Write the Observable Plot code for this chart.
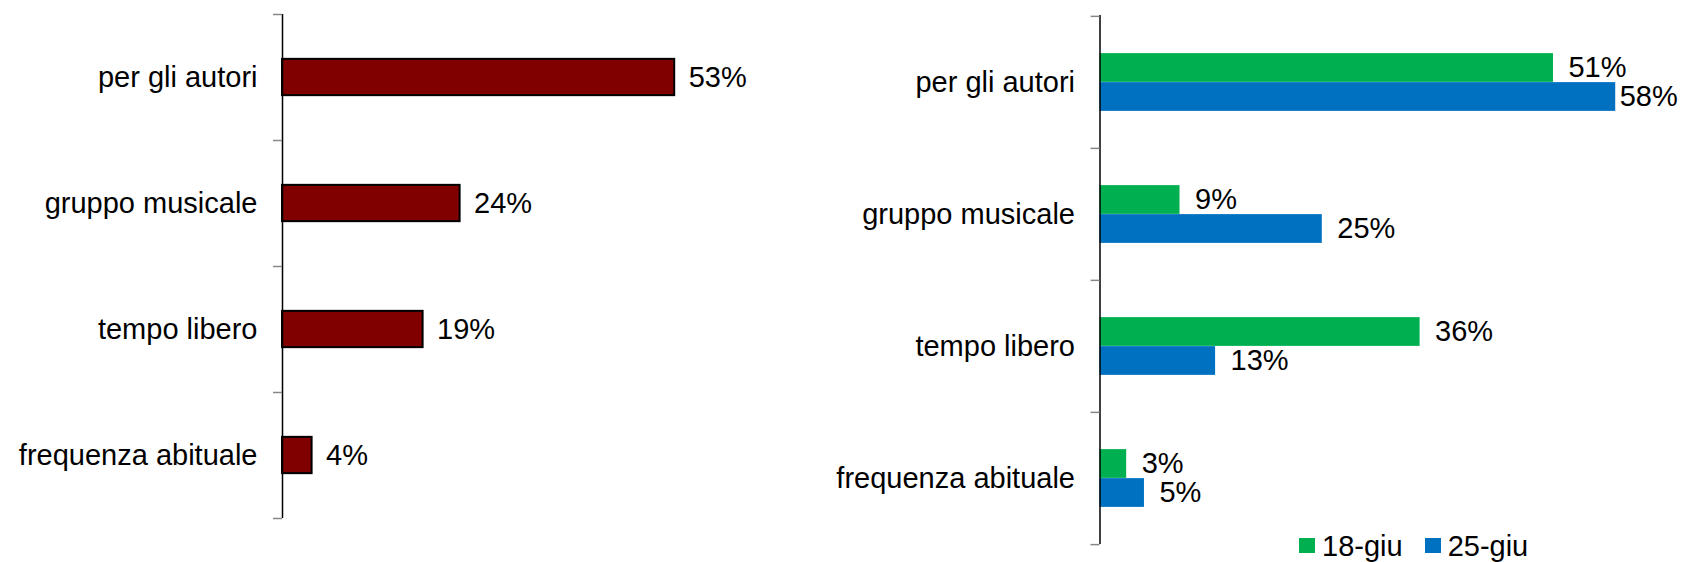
<!DOCTYPE html>
<html>
<head>
<meta charset="utf-8">
<script src="https://cdn.jsdelivr.net/npm/d3@7"></script>
<script src="https://cdn.jsdelivr.net/npm/@observablehq/plot@0.6"></script>
<style>
  html, body { margin: 0; padding: 0; background: #fff; width: 1682px; height: 562px; overflow: hidden; }
  #wrap { position: relative; width: 1682px; height: 562px; font-family: "Liberation Sans", Arial, sans-serif; }
  #left, #right, #legend { position: absolute; top: 0; }
  #left { left: 0; }
  #right { left: 800px; }
  #legend { left: 1299px; top: 529px; }
  #legend * { font-family: "Liberation Sans", Arial, sans-serif !important; font-size: 29px !important; color: #000; line-height: 32px; }
  #legend svg { margin-right: 7px !important; }
  #legend span { margin-right: 22px !important; }
</style>
</head>
<body>
<div id="wrap">
  <div id="left"></div>
  <div id="right"></div>
  <div id="legend"></div>
</div>
<script>
// ---- data ----
const categories = ["per gli autori", "gruppo musicale", "tempo libero", "frequenza abituale"];
const totalValues = [53, 24, 19, 4];
const seriesNames = ["18-giu", "25-giu"];
const values18giu = [51, 9, 36, 3];
const values25giu = [58, 25, 13, 5];
const seriesColors = ["#00B050", "#0070C0"];

const FONT = "'Liberation Sans', Arial, sans-serif";
const FS = 29;
const pct = v => `${v}%`;

// ---- left chart ----
const leftData = categories.map((c, i) => ({category: c, value: totalValues[i]}));
{
  const width = 800, height = 562, mt = 14, mb = 44, ml = 282, mr = 0;
  const step = (height - mt - mb) / categories.length;
  const barH = 36.3;
  const inset = (step - barH) / 2;
  const last = categories[categories.length - 1];
  const chart = Plot.plot({
    width, height,
    marginTop: mt, marginBottom: mb, marginLeft: ml, marginRight: mr,
    style: {fontFamily: FONT, background: "transparent", overflow: "visible"},
    x: {domain: [0, 70], axis: null},
    y: {domain: categories, padding: 0, axis: null},
    marks: [
      Plot.barX(leftData, {x: "value", y: "category", fill: "#800000", stroke: "#000", strokeWidth: 2,
        insetTop: inset, insetBottom: inset}),
      Plot.ruleX([0], {stroke: "#000", strokeWidth: 1.5}),
      Plot.ruleY(categories, {y: d => d, x1: 0, x2: 0, insetLeft: -9, dy: -step / 2, stroke: "#888", strokeWidth: 1.5}),
      Plot.ruleY([last], {y: d => d, x1: 0, x2: 0, insetLeft: -9, dy: step / 2, stroke: "#888", strokeWidth: 1.5}),
      Plot.axisY({tickSize: 0, tickPadding: 25, fontSize: FS, color: "#000", label: null}),
      Plot.text(leftData, {x: "value", y: "category", text: d => pct(d.value), dx: 14,
        textAnchor: "start", fontSize: FS, fill: "#000"})
    ]
  });
  document.getElementById("left").appendChild(chart);
}

// ---- right chart ----
const rightData = [];
categories.forEach((c, i) => {
  rightData.push({category: c, series: seriesNames[0], value: values18giu[i]});
  rightData.push({category: c, series: seriesNames[1], value: values25giu[i]});
});
{
  const width = 882, height = 562, mt = 15, mb = 18, ml = 299.5, mr = 49;
  const xMax = 60;
  const step = (height - mt - mb) / categories.length;
  const barH = 29;
  const gap = (step - 2 * barH) / 2;
  const last = categories[categories.length - 1];
  const innerW = width - ml - mr;
  const labelW = 58, labelDx = 15;
  const fits = d => ml + d.value * innerW / xMax + labelDx + labelW <= width;
  const first = rightData.filter(d => d.series === seriesNames[0]);
  const second = rightData.filter(d => d.series === seriesNames[1]);
  const chart = Plot.plot({
    width, height,
    marginTop: mt, marginBottom: mb, marginLeft: ml, marginRight: mr,
    style: {fontFamily: FONT, background: "transparent", overflow: "visible"},
    x: {domain: [0, xMax], axis: null},
    y: {domain: categories, padding: 0, axis: null},
    color: {domain: seriesNames, range: seriesColors},
    marks: [
      Plot.barX(first, {x: "value", y: "category", fill: "series", insetTop: gap, insetBottom: step - gap - barH}),
      Plot.barX(second, {x: "value", y: "category", fill: "series", insetTop: gap + barH, insetBottom: gap}),
      Plot.ruleX([0], {stroke: "#000", strokeWidth: 1.5}),
      Plot.ruleY(categories, {y: d => d, x1: 0, x2: 0, insetLeft: -9, dy: -step / 2, stroke: "#888", strokeWidth: 1.5}),
      Plot.ruleY([last], {y: d => d, x1: 0, x2: 0, insetLeft: -9, dy: step / 2, stroke: "#888", strokeWidth: 1.5}),
      Plot.axisY({tickSize: 0, tickPadding: 25, fontSize: FS, color: "#000", label: null}),
      Plot.text(first.filter(fits), {x: "value", y: "category", text: d => pct(d.value), dx: labelDx,
        dy: -(barH / 2), textAnchor: "start", fontSize: FS, fill: "#000"}),
      Plot.text(second.filter(fits), {x: "value", y: "category", text: d => pct(d.value), dx: labelDx,
        dy: barH / 2, textAnchor: "start", fontSize: FS, fill: "#000"}),
      Plot.text(first.filter(d => !fits(d)), {x: "value", y: "category", text: d => pct(d.value), dx: 4,
        dy: -(barH / 2), textAnchor: "start", fontSize: FS, fill: "#000"}),
      Plot.text(second.filter(d => !fits(d)), {x: "value", y: "category", text: d => pct(d.value), dx: 4,
        dy: barH / 2, textAnchor: "start", fontSize: FS, fill: "#000"})
    ]
  });
  document.getElementById("right").appendChild(chart);
  const legend = chart.legend("color", {legend: "swatches", swatchWidth: 16, swatchHeight: 15});
  document.getElementById("legend").appendChild(legend);
}
</script>
</body>
</html>
